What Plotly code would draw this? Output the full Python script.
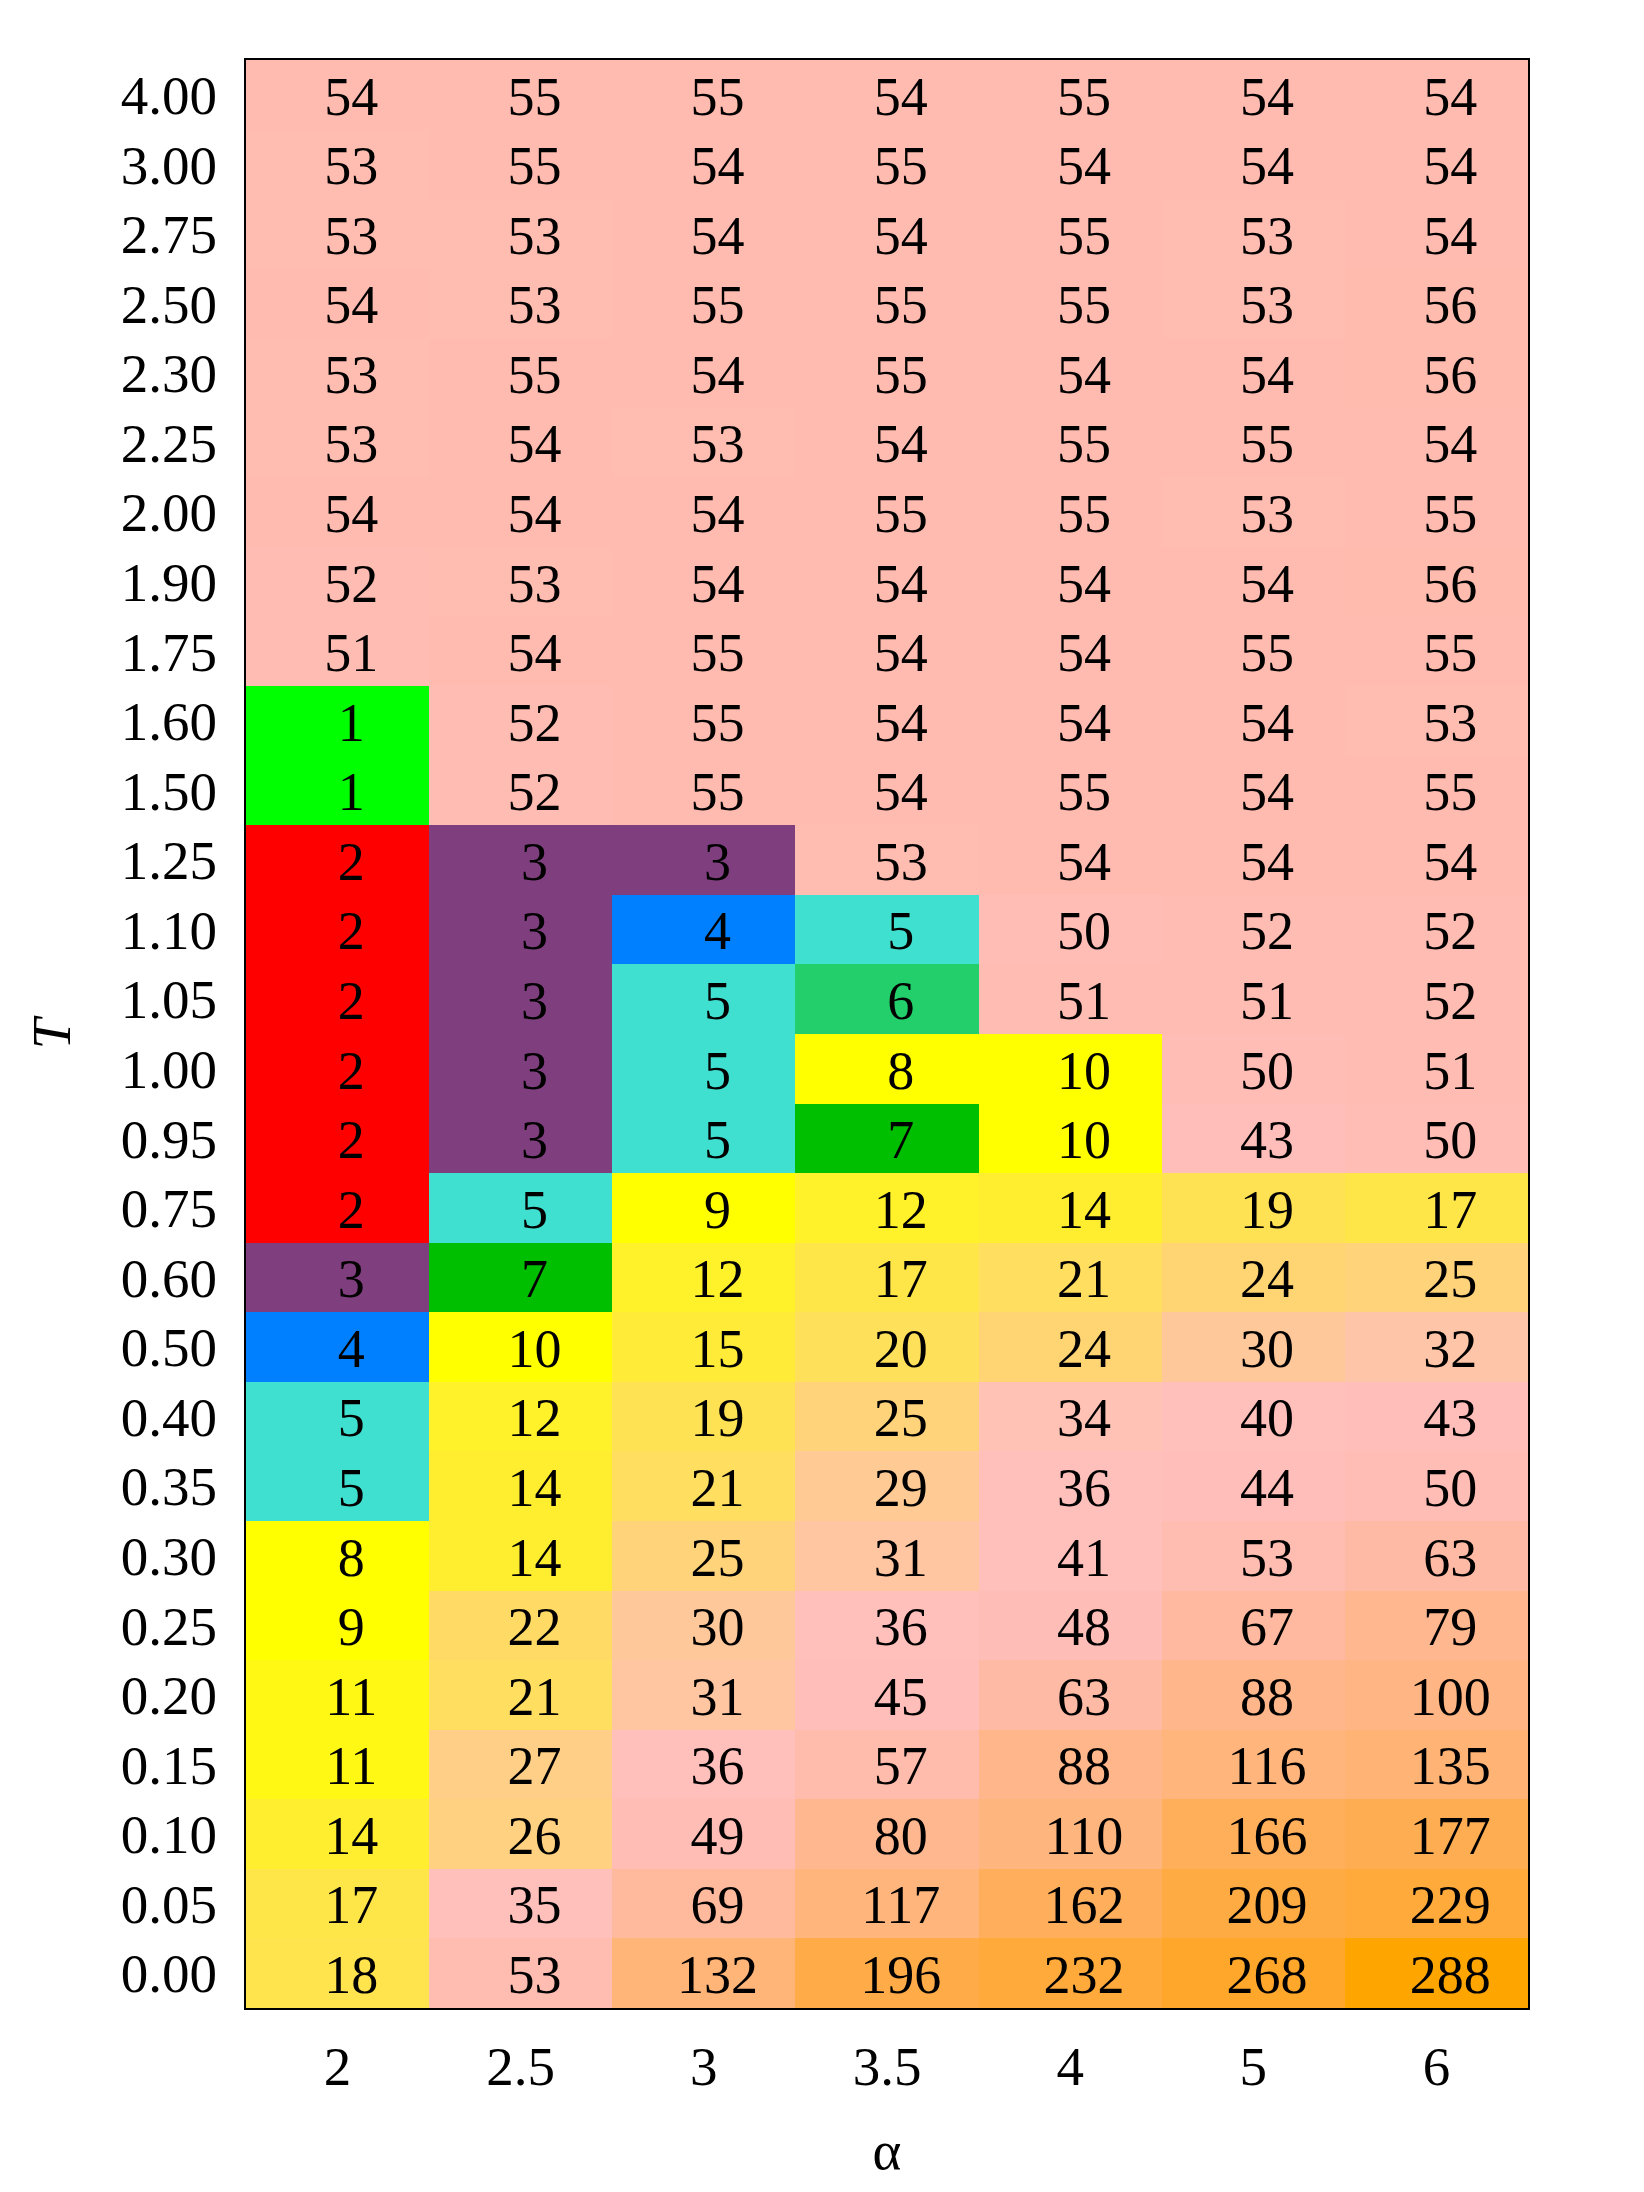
import plotly.graph_objects as go

alpha_labels = ["2", "2.5", "3", "3.5", "4", "5", "6"]

T_labels = ["0.00", "0.05", "0.10", "0.15", "0.20", "0.25", "0.30", "0.35",
            "0.40", "0.50", "0.60", "0.75", "0.95", "1.00", "1.05", "1.10",
            "1.25", "1.50", "1.60", "1.75", "1.90", "2.00", "2.25", "2.30",
            "2.50", "2.75", "3.00", "4.00"]

# one row per T (bottom to top), one column per alpha
counts = [
    [18, 53, 132, 196, 232, 268, 288],
    [17, 35, 69, 117, 162, 209, 229],
    [14, 26, 49, 80, 110, 166, 177],
    [11, 27, 36, 57, 88, 116, 135],
    [11, 21, 31, 45, 63, 88, 100],
    [9, 22, 30, 36, 48, 67, 79],
    [8, 14, 25, 31, 41, 53, 63],
    [5, 14, 21, 29, 36, 44, 50],
    [5, 12, 19, 25, 34, 40, 43],
    [4, 10, 15, 20, 24, 30, 32],
    [3, 7, 12, 17, 21, 24, 25],
    [2, 5, 9, 12, 14, 19, 17],
    [2, 3, 5, 7, 10, 43, 50],
    [2, 3, 5, 8, 10, 50, 51],
    [2, 3, 5, 6, 51, 51, 52],
    [2, 3, 4, 5, 50, 52, 52],
    [2, 3, 3, 53, 54, 54, 54],
    [1, 52, 55, 54, 55, 54, 55],
    [1, 52, 55, 54, 54, 54, 53],
    [51, 54, 55, 54, 54, 55, 55],
    [52, 53, 54, 54, 54, 54, 56],
    [54, 54, 54, 55, 55, 53, 55],
    [53, 54, 53, 54, 55, 55, 54],
    [53, 55, 54, 55, 54, 54, 56],
    [54, 53, 55, 55, 55, 53, 56],
    [53, 53, 54, 54, 55, 53, 54],
    [53, 55, 54, 55, 54, 54, 54],
    [54, 55, 55, 54, 55, 54, 54],
]

zmin, zmax = 1, 288

# discrete colours for the small counts
small_colors = ["#00FF00", "#FF0000", "#7F3F7F", "#0080FF",
                "#40E0D0", "#22CF6B", "#00BF00"]
# continuous part (value, colour)
ramp = [(7.5, "#FFFF00"), (10, "#FFFF00"), (12, "#FFF12A"), (14, "#FFEE30"),
        (17, "#FFE648"), (21, "#FFDE60"), (24, "#FFD573"), (30, "#FFC89A"),
        (35, "#FFC0BC"), (45, "#FFBEBA"), (55, "#FFBBAF"), (80, "#FFB78F"),
        (110, "#FFB57E"), (132, "#FFB478"), (170, "#FFAD55"), (196, "#FFAC48"),
        (232, "#FFAA3A"), (268, "#FFA72A"), (288, "#FFA500")]


def pos(v):
    return (v - zmin) / (zmax - zmin)


scale = []
for k, c in enumerate(small_colors):
    lo = max(zmin, k + 0.5)
    hi = k + 1.5
    scale.append([pos(lo), c])
    scale.append([pos(hi), c])
for v, c in ramp:
    scale.append([pos(v), c])

font = "Liberation Serif, Times New Roman, serif"

nrows = len(T_labels)
ncols = len(alpha_labels)

fig = go.Figure()
fig.add_trace(go.Heatmap(
    z=counts,
    x=list(range(ncols)),
    y=list(range(nrows)),
    zmin=zmin, zmax=zmax,
    colorscale=scale,
    showscale=False,
    hoverinfo="skip",
))

tx, ty, tt = [], [], []
for r in range(nrows):
    for c in range(ncols):
        tx.append(c + 0.075)
        ty.append(r - 0.09)
        tt.append(str(counts[r][c]))

fig.add_trace(go.Scatter(
    x=tx, y=ty, text=tt, mode="text",
    textfont=dict(family=font, size=54, color="black"),
    hoverinfo="skip", showlegend=False,
))

fig.update_xaxes(
    range=[-0.5, ncols - 0.5],
    tickvals=list(range(ncols)), ticktext=alpha_labels,
    showgrid=False, zeroline=False, ticks="",
    showline=True, mirror=True, linecolor="black", linewidth=2,
    ticklabelstandoff=9,
    tickfont=dict(family=font, size=55, color="black"),
    title=dict(text="α", font=dict(family=font, size=55, color="black"), standoff=34),
)
fig.update_yaxes(
    range=[-0.5, nrows - 0.5],
    tickvals=list(range(nrows)), ticktext=T_labels,
    showgrid=False, zeroline=False, ticks="",
    showline=True, mirror=True, linecolor="black", linewidth=2,
    ticklabelstandoff=16,
    tickfont=dict(family=font, size=55, color="black"),
    title=dict(text="<i>T</i>", font=dict(family=font, size=55, color="black"), standoff=33),
)

fig.update_layout(
    width=1644, height=2192,
    margin=dict(l=238, r=124, t=52, b=192, autoexpand=False),
    plot_bgcolor="white", paper_bgcolor="white",
    showlegend=False,
)

fig.write_html("out.html")
